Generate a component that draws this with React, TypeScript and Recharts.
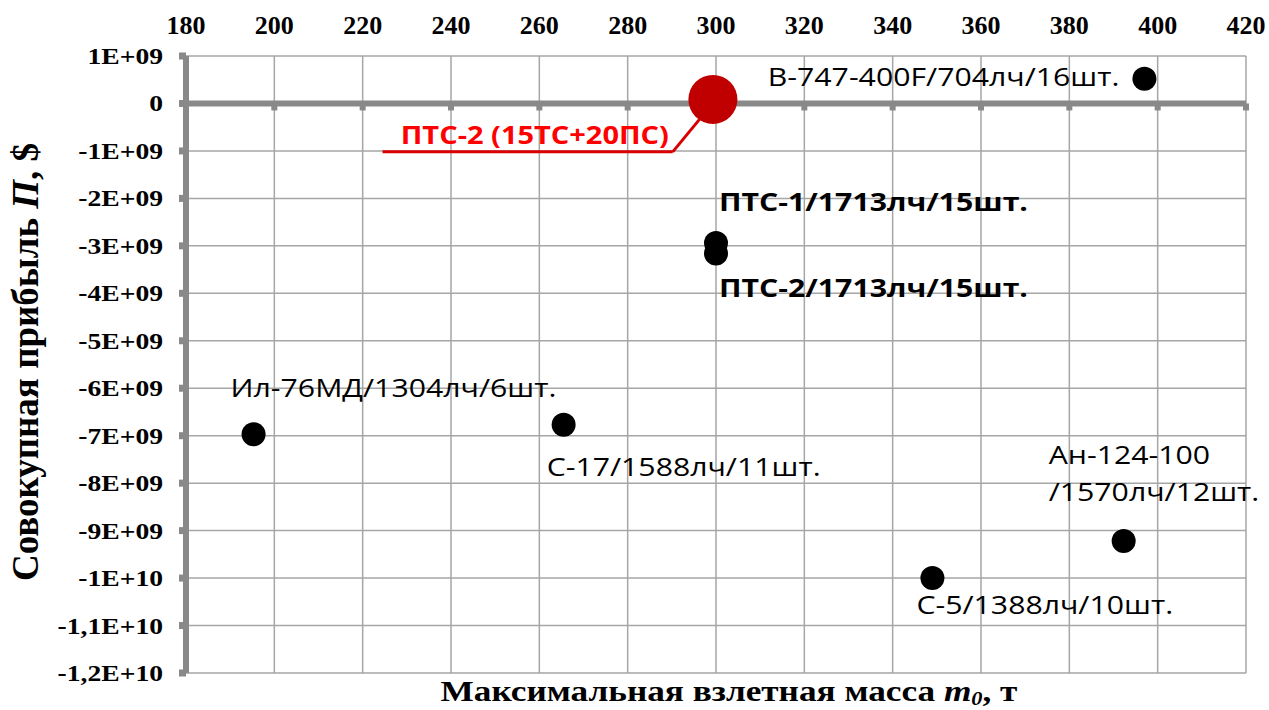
import React from 'react';
import {
  ScatterChart,
  Scatter,
  XAxis,
  YAxis,
  CartesianGrid,
  ReferenceLine,
} from 'recharts';

const xTicks = [180, 200, 220, 240, 260, 280, 300, 320, 340, 360, 380, 400, 420];
const yTicks = [1e9, 0, -1e9, -2e9, -3e9, -4e9, -5e9, -6e9, -7e9, -8e9, -9e9, -1e10, -1.1e10, -1.2e10];

const aircraftNames = [
  'В-747-400F/704лч/16шт.',
  'ПТС-1/1713лч/15шт.',
  'ПТС-2/1713лч/15шт.',
  'Ил-76МД/1304лч/6шт.',
  'С-17/1588лч/11шт.',
  'С-5/1388лч/10шт.',
  'Ан-124-100\n/1570лч/12шт.',
];
const takeoffMass = [397, 300, 300, 195.3, 265.5, 349, 392.3];
const totalProfit = [5.2e8, -2.94e9, -3.16e9, -6.97e9, -6.77e9, -1.0e10, -9.22e9];

const highlightName = 'ПТС-2 (15ТС+20ПС)';
const highlightMass = 299.3;
const highlightProfit = 8.5e7;

// leader line from the red label to the red point
const leaderPoints = [
  { x: 224.5, y: -1.02e9 },
  { x: 290.2, y: -1.02e9 },
  { x: 296.4, y: -3.2e8 },
];

// label offsets from each point: dx/dy to text baseline
const labelPlacement: Record<string, { dx: number; dy: number; anchor: string; bold?: boolean }> = {
  'В-747-400F/704лч/16шт.': { dx: -25, dy: 7, anchor: 'end' },
  'ПТС-1/1713лч/15шт.': { dx: 3, dy: -32, anchor: 'start', bold: true },
  'ПТС-2/1713лч/15шт.': { dx: 3, dy: 44, anchor: 'start', bold: true },
  'Ил-76МД/1304лч/6шт.': { dx: -23, dy: -37, anchor: 'start' },
  'С-17/1588лч/11шт.': { dx: -17, dy: 51, anchor: 'start' },
  'С-5/1388лч/10шт.': { dx: -16, dy: 36, anchor: 'start' },
  'Ан-124-100\n/1570лч/12шт.': { dx: -75, dy: -77, anchor: 'start' },
};

const aircraft = aircraftNames.map((name, i) => ({ name, x: takeoffMass[i], y: totalProfit[i] }));
const highlight = [{ name: highlightName, x: highlightMass, y: highlightProfit }];
const zeroTicks = xTicks.slice(1).map((x) => ({ x, y: 0 }));

const AXIS_GRAY = '#898989';
const LABEL_FONT = '"Open Sans", sans-serif';
const SERIF = '"Liberation Serif", "Times New Roman", serif';

const formatProfit = (v: number) => {
  if (v === 0) return '0';
  const exp = Math.floor(Math.log10(Math.abs(v)) + 1e-9);
  const mant = Math.round((v / Math.pow(10, exp)) * 10) / 10;
  const m = String(mant).replace('.', ',');
  return `${m}E+${String(exp).padStart(2, '0')}`;
};

const XTick = (props: any) => {
  const { x, payload } = props;
  return (
    <text x={x} y={34} textAnchor="middle" fontFamily={SERIF} fontWeight="bold" fontSize={26} fill="#000">
      {payload.value}
    </text>
  );
};

const YTick = (props: any) => {
  const { y, payload } = props;
  return (
    <text
      transform={`translate(163, ${y + 8}) scale(1.15, 1)`}
      textAnchor="end"
      fontFamily={SERIF}
      fontWeight="bold"
      fontSize={24}
      fill="#000"
    >
      {formatProfit(payload.value)}
    </text>
  );
};

const renderAircraft = (props: any) => {
  const { cx, cy, payload } = props;
  const place = labelPlacement[payload.name];
  const lines = String(payload.name).split('\n');
  return (
    <g>
      <circle cx={cx} cy={cy} r={12} fill="#000" />
      {lines.map((line, i) => (
        <text
          key={i}
          transform={`translate(${cx + place.dx}, ${cy + place.dy + i * 37}) scale(1.21, 1)`}
          textAnchor={place.anchor}
          fontFamily={LABEL_FONT}
          fontWeight={place.bold ? 'bold' : 'normal'}
          fontSize={25}
          fill="#000"
        >
          {line}
        </text>
      ))}
    </g>
  );
};

const renderHighlight = (props: any) => {
  const { cx, cy, payload } = props;
  return (
    <g>
      <circle cx={cx} cy={cy} r={24.5} fill="#c00000" />
      <text
        transform={`translate(${cx - 44}, ${cy + 45}) scale(1.16, 1)`}
        textAnchor="end"
        fontFamily={LABEL_FONT}
        fontWeight="bold"
        fontSize={25}
        fill="#ff0000"
      >
        {payload.name}
      </text>
    </g>
  );
};

const renderZeroTick = (props: any) => {
  const { cx, cy } = props;
  return <rect x={cx - 3} y={cy} width={6} height={7} fill={AXIS_GRAY} />;
};

const YTitle = () => (
  <text
    transform="translate(38, 362) rotate(-90)"
    textAnchor="middle"
    fontFamily={SERIF}
    fontWeight="bold"
    fontSize={37}
    fill="#000"
  >
    Совокупная прибыль <tspan fontStyle="italic">П</tspan>, $
  </text>
);

const XTitle = () => (
  <text
    transform="translate(729, 701) scale(1.175, 1)"
    textAnchor="middle"
    fontFamily={SERIF}
    fontWeight="bold"
    fontSize={30}
    fill="#000"
  >
    Максимальная взлетная масса <tspan fontStyle="italic">m</tspan>
    <tspan fontStyle="italic" fontSize={19} dy={4}>0</tspan>
    <tspan dy={-4}>, т</tspan>
  </text>
);

export default function App() {
  return (
    <div style={{ position: 'absolute', left: 0, top: 0, background: '#fff' }}>
      <ScatterChart width={1269} height={710} margin={{ top: 0, right: 23, bottom: 37, left: 0 }}>
        <CartesianGrid stroke="#a6a6a6" strokeWidth={1.5} />
        <XAxis
          type="number"
          dataKey="x"
          orientation="top"
          domain={[180, 420]}
          ticks={xTicks}
          height={56}
          axisLine={false}
          tickLine={false}
          tick={<XTick />}
          label={{ content: () => <XTitle /> }}
        />
        <YAxis
          type="number"
          dataKey="y"
          domain={[-1.2e10, 1e9]}
          ticks={yTicks}
          width={186}
          axisLine={{ stroke: AXIS_GRAY, strokeWidth: 6 }}
          tickLine={{ stroke: AXIS_GRAY, strokeWidth: 7 }}
          tickSize={7}
          tick={<YTick />}
          label={{ content: () => <YTitle /> }}
        />
        <ReferenceLine y={0} stroke={AXIS_GRAY} strokeWidth={6} />
        <ReferenceLine segment={[leaderPoints[0], leaderPoints[1]]} stroke="#d80000" strokeWidth={3} />
        <ReferenceLine segment={[leaderPoints[1], leaderPoints[2]]} stroke="#d80000" strokeWidth={3} />
        <Scatter data={zeroTicks} shape={renderZeroTick} isAnimationActive={false} />
        <Scatter data={aircraft} shape={renderAircraft} isAnimationActive={false} />
        <Scatter data={highlight} shape={renderHighlight} isAnimationActive={false} />
      </ScatterChart>
    </div>
  );
}
